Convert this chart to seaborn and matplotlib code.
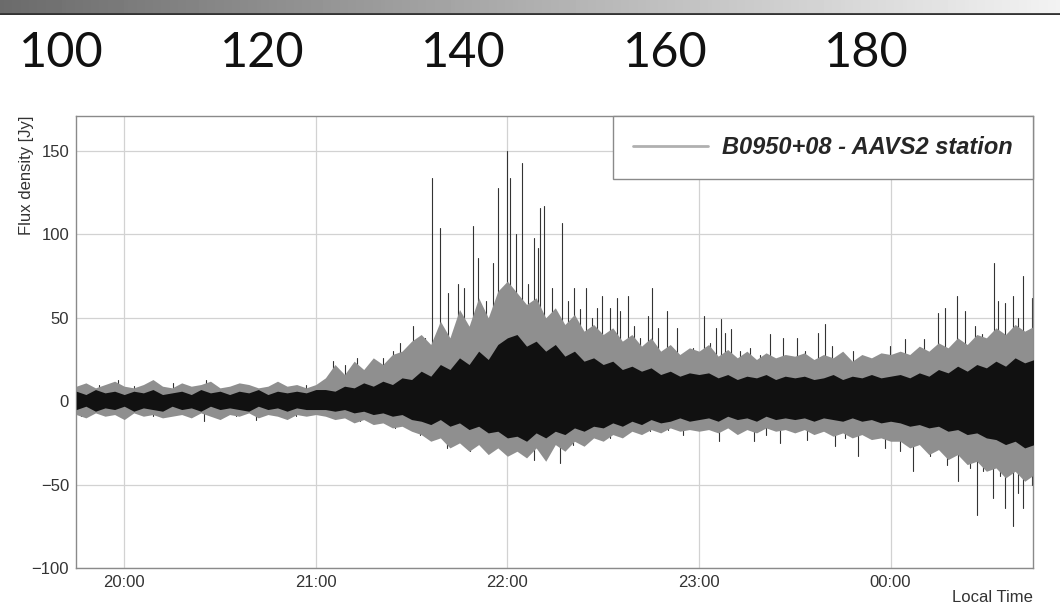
import pandas as pd
import matplotlib
matplotlib.use("Agg")
import matplotlib.pyplot as plt
import seaborn as sns
from matplotlib.lines import Line2D
from matplotlib.ticker import FixedLocator, MultipleLocator
import numpy as np

# time axis: minutes after 19:00, trace envelope read every 3 minutes
band_t = list(range(45, 346, 3))
# dense black core
band_hi = [6, 4, 7, 5, 6, 4, 6, 5, 7, 4, 5, 6, 4, 7, 5, 6, 4, 6, 5, 7, 4, 6, 5, 6, 5, 7,
           7, 6, 9, 8, 11, 9, 12, 10, 14, 13,
           18, 15, 22, 19, 26, 22, 30, 25, 34, 38,
           40, 33, 36, 30, 34, 27, 30, 24, 26, 22,
           24, 19, 21, 18, 20, 16, 18, 15, 17, 16,
           17, 14, 16, 13, 15, 14, 16, 13, 15, 14,
           15, 13, 14, 16, 13, 15, 14, 16, 14, 15,
           16, 14, 17, 15, 19, 17, 21, 18, 22, 20,
           24, 21, 26, 23, 25]
band_lo = [-5, -3, -6, -4, -5, -3, -6, -4, -5, -6, -3, -5, -4, -6, -3, -5, -4, -5, -6, -3,
           -5, -4, -6, -4, -5, -5,
           -5, -6, -5, -7, -6, -8, -7, -9, -8, -11,
           -12, -14, -11, -15, -13, -17, -15, -19, -18, -22,
           -21, -24, -19, -22, -18, -20, -16, -18, -15, -16,
           -13, -15, -12, -14, -11, -13, -12, -10, -12, -11,
           -10, -12, -9, -11, -10, -12, -9, -11, -10, -11,
           -10, -12, -10, -11, -12, -10, -12, -11, -13, -12,
           -13, -15, -14, -16, -15, -18, -17, -20, -19, -22,
           -23, -26, -24, -28, -26]
# lighter grey fringe around the core
fringe_hi = [9, 11, 8, 10, 12, 9, 8, 10, 13, 9, 8, 11, 9, 10, 12, 8, 9, 11, 10, 8, 9, 12, 9,
             10, 8, 10,
             14, 22, 16, 24, 19, 26, 22, 28, 30, 36,
             40, 34, 48, 38, 55, 45, 62, 50, 66, 72,
             65, 58, 62, 50, 56, 46, 52, 42, 46, 40,
             44, 36, 40, 33, 38, 30, 34, 28, 32, 30,
             34, 27, 31, 26, 30, 25, 29, 26, 28, 27,
             29, 25, 28, 26, 30, 24, 28, 26, 29, 28,
             30, 28, 33, 30, 35, 32, 38, 34, 40, 38,
             44, 40, 46, 42, 45]
fringe_lo = [-8, -10, -7, -9, -8, -11, -7, -9, -8, -10, -9, -8, -10, -7, -9, -11, -8, -9, -7,
             -10, -8, -9, -11, -8, -9, -8,
             -9, -11, -10, -13, -11, -14, -13, -16, -15, -18,
             -20, -24, -22, -28, -25, -30, -26, -32, -28, -33,
             -30, -34, -28, -36, -26, -30, -24, -27, -22, -24,
             -20, -22, -18, -20, -17, -19, -16, -18, -17, -18,
             -17, -19, -16, -20, -17, -19, -16, -18, -17, -19,
             -17, -20, -18, -21, -19, -22, -20, -23, -22, -24,
             -24, -28, -26, -32, -29, -35, -32, -38, -36, -42,
             -40, -46, -42, -48, -44]

# individual spikes
up_t = [47.4, 52.1, 58.0, 63.0, 69.9, 75.3, 85.6, 91.8, 99.0, 107.5, 116.9,
        125.4, 129.1, 132.8, 137.6, 141.0, 144.2, 146.3, 150.4, 154.2, 156.4, 158.9,
        161.4, 164.5, 166.4, 169.2, 170.8, 173.3, 175.4, 177.0, 179.8, 180.8, 182.7,
        184.5, 186.4, 188.3, 189.6, 190.2, 191.5, 193.9, 197.1, 198.9, 200.8, 202.7,
        204.6, 206.5, 208.0, 209.6, 212.1, 214.3, 215.2, 217.7, 219.6, 221.5, 224.0,
        225.2, 227.1, 229.9, 233.1, 235.6, 238.1, 241.5, 243.4, 245.3, 246.9, 248.1,
        250.0, 252.8, 256.0, 259.1, 262.2, 266.3, 270.7, 273.2, 277.2, 279.4, 281.6,
        284.1, 288.2, 291.9, 296.0, 299.8, 304.5, 307.6, 310.5, 314.8, 317.0, 320.8,
        323.3, 326.4, 328.6, 332.4, 333.6, 335.8, 338.3, 339.9, 341.4, 344.3]
up_v = [8, 10, 13, 9, 9, 11, 13, 8, 9, 8, 10,
        24, 22, 26, 24, 26, 30, 35, 45, 38, 134, 104,
        65, 70, 68, 105, 86, 60, 83, 128, 150, 134, 100,
        143, 70, 98, 92, 116, 117, 68, 107, 60, 68, 55,
        68, 50, 56, 63, 56, 62, 54, 63, 45, 38, 51,
        68, 44, 54, 44, 26, 32, 51, 35, 44, 49, 41,
        43, 30, 32, 28, 40, 38, 38, 30, 41, 46, 33,
        28, 30, 26, 24, 33, 37, 30, 37, 53, 56, 63,
        54, 45, 40, 83, 60, 59, 63, 50, 75, 62]
down_t = [46.4, 54.3, 69.0, 84.9, 94.9, 101.2, 113.8,
          124.4, 133.8, 144.8, 152.6, 161.1, 168.3, 173.0, 179.8, 183.9, 188.3, 192.7,
          196.4, 200.5, 205.8, 212.1, 218.4, 224.6, 230.3, 235.0, 240.3, 246.3, 251.3,
          257.2, 261.0, 265.4, 270.1, 273.8, 277.9, 282.6, 285.7, 289.8, 293.6, 298.3,
          303.0, 307.1, 312.4, 317.7, 321.1, 324.9, 327.1, 329.0, 332.1, 334.3, 335.8,
          338.3, 339.9, 341.4, 344.3]
down_v = [-9, -7, -9, -12, -9, -11, -9,
          -8, -12, -16, -20, -28, -30, -22, -30, -22, -35, -25,
          -37, -26, -20, -22, -18, -18, -17, -20, -16, -24, -18,
          -24, -20, -25, -18, -23, -18, -27, -22, -33, -22, -28,
          -30, -42, -33, -38, -48, -40, -68, -42, -58, -45, -64,
          -75, -55, -64, -50]

hour_ticks = [60, 120, 180, 240, 300]
hour_labels = ["20:00", "21:00", "22:00", "23:00", "00:00"]
top_labels = ["100", "120", "140", "160", "180"]
legend_label = "B0950+08 - AAVS2 station"

sns.set_style("white")
plt.rcParams["font.family"] = ["Liberation Sans", "DejaVu Sans"]

# each spike is a vertical stroke from the baseline to its peak
rows = []
for i, (t, v) in enumerate(zip(up_t + down_t, up_v + down_v)):
    rows.append((i, t, 0.0))
    rows.append((i, t, v))
spikes = pd.DataFrame(rows, columns=["spike", "t", "flux"])

fig = plt.figure(figsize=(10.6, 6.04), dpi=100)

# slide header strip above the plot
bar = fig.add_axes([0, 1 - 15 / 604, 1, 15 / 604])
bar.imshow(np.linspace(0.42, 0.95, 256)[None, :], cmap="gray", vmin=0, vmax=1,
           aspect="auto", extent=(0, 1, 0, 1))
bar.axhline(0.05, color="#333333", lw=2)
bar.set_axis_off()
for i, lab in enumerate(top_labels):
    xc = (61 + 201.3 * i) / 1060
    fig.text(xc, 1 - 53 / 604, lab, fontsize=35, family="Lato", ha="center", va="center",
             color="#111111")

ax = fig.add_axes([76 / 1060, 1 - 568 / 604, 957 / 1060, 452 / 604])
sns.lineplot(data=spikes, x="t", y="flux", units="spike", estimator=None, sort=False,
             color="#333333", lw=0.8, ax=ax, zorder=1.5)
ax.fill_between(band_t, fringe_lo, fringe_hi, color="#8f8f8f", lw=0, zorder=2)
ax.fill_between(band_t, band_lo, band_hi, color="#111111", lw=0, zorder=3)

ax.set_xlim(44.9, 344.6)
ax.set_ylim(-100, 171)
ax.xaxis.set_major_locator(FixedLocator(hour_ticks))
ax.set_xticklabels(hour_labels)
ax.xaxis.set_minor_locator(MultipleLocator(15))
ax.yaxis.set_major_locator(MultipleLocator(50))
ax.yaxis.set_minor_locator(MultipleLocator(10))
ax.grid(True, which="major", color="#d2d2d2", lw=0.9)
ax.set_axisbelow(True)
ax.tick_params(which="both", direction="in", colors="#666666", labelcolor="#333333",
               labelsize=12, top=False, right=False)
ax.tick_params(axis="x", which="major", length=16, pad=5)
ax.tick_params(axis="x", which="minor", length=9)
ax.tick_params(axis="y", which="major", length=27, pad=5)
ax.tick_params(axis="y", which="minor", length=14)
for sp in ax.spines.values():
    sp.set_color("#8a8a8a")
    sp.set_linewidth(1.0)

ax.set_xlabel("")
ax.set_ylabel("")
ax.text(-50 / 957, 1.0, "Flux density [Jy]", transform=ax.transAxes, rotation=90,
        ha="center", va="top", fontsize=12, color="#333333")
ax.text(1.0, -29 / 452, "Local Time", transform=ax.transAxes, ha="right", va="center",
        fontsize=12, color="#333333")

handle = Line2D([], [], color="#b0b0b0", lw=2)
leg = ax.legend([handle], [legend_label], loc="upper right", bbox_to_anchor=(1, 1),
                borderaxespad=0, fancybox=False, framealpha=1, edgecolor="#8a8a8a",
                borderpad=0.85, handlelength=3.2, handletextpad=0.6,
                prop={"family": "Liberation Sans", "weight": "bold", "style": "italic",
                      "size": 17})
leg.get_frame().set_linewidth(1.0)
leg.set_zorder(10)

fig.savefig("out.png", dpi=100)
